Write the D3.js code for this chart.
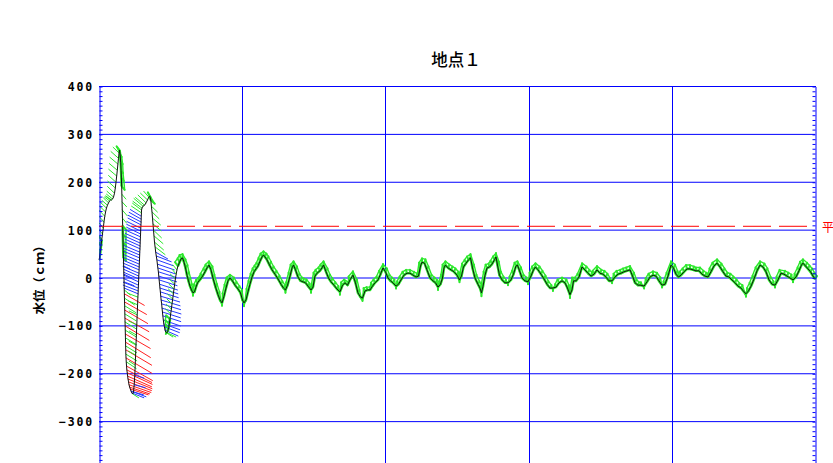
<!DOCTYPE html>
<html>
<head>
<meta charset="utf-8">
<script src="https://cdn.jsdelivr.net/npm/d3@7"></script>
<style>
  html, body { margin: 0; padding: 0; background: #fff; overflow: hidden; }
  svg { display: block; }
</style>
</head>
<body>
<svg id="chart" width="833" height="463"></svg>
<script>
// 地点１ water-level record: time in minutes from the start of the 5-day window, level in cm
const obsMinute = [
  0,5,13,20,27,35,43,50,58,66,75,85,96,106,116,126,136,146,156,164,171,178,184,190,196,202,207,
  213,218,222,225,228,230,232,234,236,238,240,242,244,246,248,250,252,254,255,256,257,258,259,260,261,262,263,264,265,266,267,268,269,270,272,274,277,280,284,288,292,297,302,308,315,322,330,338,
  347,354,360,364,368,372,376,380,384,388,391,
  393,394,395,397,398,399,400,402,403,404,405,407,408,409,410,412,413,414,415,417,418,419,420,422,423,424,425,427,428,
  432,442,458,473,488,501,511,
  521,527,533,538,543,548,553,558,564,570,576,582,587,592,597,601,605,609,613,617,621,625,630,634,638,642,647,652,658,664,
  672,682,692,700,707,714,721,728,734,741,748,754,761,768,776,784,794,810,825,840,855,870,885,900,915,930,945,960,975,991,1006,1021,
  1036,1066,1086,1106,1126,1146,1172,1197,1217,1237, 1257,1277,1297,1317,1342,1368,1398,1423,1443,1458,
  1478,1498,1518,1539,1559,1579,1599,1619,1639,1654, 1669,1689,1715,1740,1770,1800,1830,1855,1875,1896,
  1921,1941,1956,1976,2001,2026,2051,2077,2102,2132, 2152,2172,2192,2222,2242,2258,2283,2308,2333,2363,
  2393,2423,2449,2474,2499,2524,2554,2579,2604,2630, 2650,2675,2700,2725,2750,2775,2806,2831,2856,2881,
  2906,2931,2956,2987,3012,3037,3067,3097,3127,3158, 3188,3213,3233,3248,3273,3298,3329,3359,3384,3409,
  3434,3454,3469,3484,3510,3540,3570,3600,3625,3645, 3665,3691,3716,3736,3756,3781,3811,3831,3846,3862,
  3882,3902,3927,3952,3977,3992,4007,4027,4053,4083, 4113,4143,4168,4193,4208,4229,4254,4284,4314,4344,
  4369,4389,4415,4445,4475,4505,4535,4565,4596,4626, 4656,4686,4711,4736,4756,4772,4797,4827,4857,4887,
  4917,4948,4978,5008,5038,5068,5098,5129,5159,5189, 5219,5249,5279,5310,5340,5365,5390,5420,5450,5481,
  5511,5541,5571,5601,5631,5662,5692,5722,5752,5777, 5802,5827,5853,5883,5913,5943,5973,6003,6034,6064,
  6094,6124,6154,6184,6215,6245,6275,6305,6335,6365, 6396,6426,6456,6486,6506,6531,6557,6587,6617,6647,
  6677,6707,6738,6768,6798,6828,6858,6888,6918,6949, 6979,7009,7039,7064,7079,7105,7130,7155,7180,7200
];
const levelCm = [
  38,42,54,67,79,92,104,117,129,138,146,152,157,161,163,163,165,169,177,188,200,213,225,238,250,261,267,
  257,242,225,209,192,175,159,142,125,109,92,75,58,42,25,8,-8,-25,-33,-42,-50,-58,-67,-75,-84,-92,-100,-109,-117,-125,-134,-142,-150,-159,-167,-175,-184,-192,-198,-205,-211,-217,-223,-228,-232,-236,-240,-242,
  -238,-223,-203,-182,-161,-140,-119,-98,-77,-56,-40,
  -33,-27,-21,-15,-8,-2,4,10,17,23,29,35,42,48,54,61,67,73,79,86,92,98,104,111,117,123,129,136,142,
  146,150,152,157,163,169,171,
  163,150,138,125,113,100,88,75,65,54,46,38,29,21,13,4,-4,-13,-21,-29,-38,-46,-54,-63,-71,-79,-88,-96,-102,-109,
  -113,-115,-111,-104,-96,-86,-75,-65,-54,-44,-33,-23,-13,-2,8,17,25,33,40,42,33,21,6,-6,-17,-25,-31,-29,-19,-10,-6,-2,
  2,13,21,27,17,0,-19,-35,-46,-52, -38,-21,-6,0,-6,-15,-23,-31,-46,-52,
  -46,-29,-13,2,13,19,25,35,44,48, 44,38,27,17,8,-2,-13,-21,-25,-15,
  4,21,27,17,2,-6,-8,-10,-17,-25, -19,4,10,15,21,27,13,0,-8,-15,
  -23,-29,-15,-10,-15,-4,6,-10,-31,-40, -42,-27,-25,-25,-17,-10,-4,8,21,13,
  0,-6,-10,-17,-13,-4,6,10,10,6, 2,4,25,33,31,17,0,-6,-10,-19,
  -13,0,21,27,21,17,13,6,-4,4, 23,31,38,42,21,0,-13,-21,-31,-17,
  6,21,23,29,38,44,27,6,-4,-10, -10,-4,8,25,27,15,0,-6,-8,4,
  17,23,17,8,-2,-13,-21,-21,-19,-10, -6,-10,-21,-35,-25,-6,-6,2,23,17,
  10,4,8,17,10,8,2,-6,-6,2, 8,10,13,15,17,4,-10,-15,-15,-17,
  -8,2,6,4,-6,-15,-13,4,27,21, 8,2,6,13,19,19,17,15,15,8,
  4,2,13,25,31,23,13,4,2,-4, -10,-17,-21,-29,-33,-27,-17,-2,15,27,
  23,13,-4,-13,-15,-4,10,8,4,0, -4,2,15,27,31,25,19,13,4,-2
];
// vector drawn from each reading: offset along time (minutes) and along level (cm)
const vecMinute = [
  -15,-20,-25,-30,-35,-40,-45,-50,-55,-60,-60,-55,-50,-50,-50,-55,-60,-65,-70,-75,-75,-80,-80,-80,-75,-60,-30,
  15,20,20,25,30,40,45,50,40,35,30,30,25,25,60,80,100,60,200,100,220,110,230,110,240,110,240,110,250,110,250,110,260,110,260,100,260,250,250,240,240,230,220,200,180,150,120,60,
  100,110,90,-60,-70,-70,-70,-80,-80,-90,-100,
  -140,-150,-150,-150,-150,-150,-150,-160,-160,-160,-160,-160,-160,-160,-160,-150,-150,-150,-150,-150,-140,-140,-140,-130,-130,-120,-110,-100,-90,
  -90,-90,-90,-80,-70,-50,-20,
  40,60,70,80,80,80,90,90,100,120,150,160,170,170,180,180,180,180,180,180,190,190,190,190,180,180,170,160,150,130,
  100,60,-20,-30,-40,-40,-50,-50,-50,-50,-50,-50,-50,-50,-40,-40,-30,-20,-15,0,15,20,20,20,20,15,0,-15,-20,-15,-10,-10,
  -15,-15,-15,0,15,15,15,15,10,0, -15,-15,-15,0,15,15,15,15,10,0,
  -10,-15,-15,-15,-15,-15,-15,-15,-15,0, 15,15,15,15,15,15,15,15,0,-15,
  -15,-15,0,15,15,15,10,10,15,0, -15,-15,-15,-15,-15,0,15,15,15,15,
  15,0,-15,-10,10,-15,0,15,15,10, 0,-15,-10,0,-15,-15,-15,-15,0,15,
  15,15,15,0,-15,-15,-15,-10,0,10, 10,-10,-15,0,10,15,15,15,15,0,
  -15,-15,-15,0,15,15,15,15,0,-15, -15,-15,-15,0,15,15,15,15,0,-15,
  -15,-15,-10,-15,-15,0,15,15,15,10, 0,-15,-15,-15,0,15,15,15,0,-15,
  -15,0,15,15,15,15,15,0,-10,-15, 0,15,15,0,-15,-15,-10,-15,0,15,
  15,10,-15,0,15,15,15,10,0,-15, -15,-10,-10,-10,0,15,15,10,0,0,
  -15,-15,0,10,15,0,-15,-15,0,15, 15,0,-15,-15,-10,0,10,0,10,15,
  15,0,-15,-15,0,15,15,15,15,15, 15,15,15,10,0,-15,-15,-15,-15,0,
  15,15,15,15,0,-15,-15,10,15,15, 0,-15,-15,-15,0,15,15,15,15,20
];
const vecCm = [
  6,8,8,10,10,10,12,12,12,12,12,10,10,8,8,8,10,12,14,14,14,14,14,14,14,12,8,
  -4,-4,-6,-6,-8,-10,-10,-12,-10,-8,-8,-8,-6,-6,-6,-8,-8,-10,-24,-14,-26,-14,-28,-14,-28,-14,-30,-14,-30,-14,-32,-14,-32,-14,-32,-14,-30,-26,-24,-22,-20,-18,-16,-14,-12,-12,-10,-8,
  -6,-6,-6,8,8,8,8,8,8,8,8,
  12,12,12,14,14,14,14,14,14,14,14,14,14,14,14,14,14,14,14,14,14,14,14,14,14,14,14,14,14,
  14,16,16,16,14,12,8,
  -8,-12,-14,-14,-14,-16,-16,-16,-16,-14,-12,-12,-12,-12,-12,-12,-12,-12,-12,-12,-12,-12,-12,-12,-12,-12,-12,-12,-12,-12,
  -10,-8,-6,6,8,8,10,10,10,10,10,10,10,10,10,10,8,8,8,8,6,6,6,6,4,-4,-6,4,6,6,6,6,
  7,7,7,8,7,7,6,6,-4,-6, 6,7,7,7,7,7,6,6,-4,-7,
  -4,6,7,7,7,7,7,7,7,8, 7,7,7,7,7,7,6,6,-6,6,
  7,7,8,7,7,7,7,7,6,-6, 6,7,7,7,7,8,7,7,7,6,
  6,-6,6,7,6,7,8,7,6,-4, -6,6,6,6,7,7,7,7,8,7,
  7,7,7,-5,6,7,7,7,7,7, 7,7,7,8,8,7,7,7,6,-6,
  6,7,7,8,7,7,7,7,-5,7, 7,7,7,8,7,7,6,6,-7,6,
  7,7,7,7,7,8,7,7,7,6, -5,7,7,7,8,7,7,7,-5,7,
  7,8,7,7,7,6,6,-6,6,7, 7,7,6,-7,6,7,7,7,8,7,
  7,7,7,8,7,7,7,6,-5,7, 7,7,7,7,8,7,7,6,6,-5,
  7,7,8,7,7,-5,6,7,8,7, 7,6,7,7,8,8,7,7,7,7,
  7,6,7,7,8,7,7,7,7,7, 7,6,6,-4,-6,6,7,7,7,8,
  7,7,7,6,-5,7,7,7,7,7, -5,7,7,7,8,7,7,7,7,6
];
// vector class in runs along the record: g = green, b = blue, r = red
const vecKindRuns = [
  ["g",41],["b",3],["g",1],
  ["r",1],["g",1],["r",1],["g",1],["r",1],["g",1],["r",1],["g",1],["r",1],["g",1],
  ["r",1],["g",1],["r",1],["g",1],["r",1],["g",1],["r",1],["g",1],
  ["r",9],["b",2],["g",1],["b",3],["g",8],["b",27],["g",18],["b",21],["g",272]
];
const gridLevels = [300, 200, 100, 0, -100, -200, -300];
const yTickValues = [400, 300, 200, 100, 0, -100, -200, -300];
const dayBoundaries = [0, 1440, 2880, 4320, 5760, 7200];
const referenceLevel = 108;
const chartTitle = "地点１";
const yAxisTitle = "水位（ｃｍ）";
const referenceLabel = "平";

// ---- layout ----
const W = 833, H = 463;
const plot = { left: 99, right: 815, top: 86.5, bottom: 469.5 };
const BLUE = "#0000ff";
const GREEN = "#2ce82c";
const vecColor = { g: GREEN, b: "#2438ff", r: "#ff2020" };

const x = d3.scaleLinear().domain([dayBoundaries[0], dayBoundaries[dayBoundaries.length - 1]]).range([plot.left, plot.right]);
const y = d3.scaleLinear().domain([-400, 400]).range([plot.bottom, plot.top]);

const kinds = [];
vecKindRuns.forEach(([k, n]) => { for (let i = 0; i < n; i++) kinds.push(k); });

const records = obsMinute.map((m, i) => ({
  m, v: levelCm[i], du: vecMinute[i], dv: vecCm[i], kind: kinds[i] || "g"
}));
// pixel length of each vector decides whether it is a short (tight) one
records.forEach(d => {
  d.len = Math.hypot(x(d.m + d.du) - x(d.m), y(d.v + d.dv) - y(d.v));
  d.tight = d.kind === "g" && d.len < 6;
});

const svg = d3.select("#chart");
svg.append("rect").attr("width", W).attr("height", H).attr("fill", "#fff");

svg.append("defs").append("clipPath").attr("id", "plotClip")
  .append("rect")
  .attr("x", plot.left).attr("y", plot.top)
  .attr("width", W - plot.left).attr("height", plot.bottom - plot.top);

// horizontal grid every 100 cm
svg.append("g").selectAll("line")
  .data(gridLevels)
  .join("line")
  .attr("x1", plot.left).attr("x2", plot.right)
  .attr("y1", d => y(d)).attr("y2", d => y(d))
  .attr("stroke", BLUE).attr("stroke-width", 1);

// day boundaries
svg.append("g").selectAll("line")
  .data(dayBoundaries.slice(1, -1))
  .join("line")
  .attr("x1", d => Math.round(x(d)) + 0.5).attr("x2", d => Math.round(x(d)) + 0.5)
  .attr("y1", plot.top).attr("y2", plot.bottom)
  .attr("stroke", BLUE).attr("stroke-width", 1);

const vecLayer = svg.append("g").attr("clip-path", "url(#plotClip)");

// continuous band for runs of short green vectors: along the level and along the vector tips
vecLayer.append("path")
  .datum(records)
  .attr("fill", "none").attr("stroke", GREEN).attr("stroke-width", 2.6)
  .attr("stroke-linejoin", "round")
  .attr("d", d3.line().defined(d => d.tight).x(d => x(d.m)).y(d => y(d.v)));
vecLayer.append("path")
  .datum(records)
  .attr("fill", "none").attr("stroke", GREEN).attr("stroke-width", 1.4)
  .attr("stroke-linejoin", "round")
  .attr("d", d3.line().defined(d => d.tight).x(d => x(d.m + d.du)).y(d => y(d.v + d.dv)));

// vectors from each reading
vecLayer.append("g").selectAll("line")
  .data(records)
  .join("line")
  .attr("x1", d => x(d.m)).attr("y1", d => y(d.v))
  .attr("x2", d => x(d.m + d.du)).attr("y2", d => y(d.v + d.dv))
  .attr("stroke", d => vecColor[d.kind])
  .attr("stroke-width", d => d.tight ? 2 : 1)
  .attr("stroke-linecap", "round");

// level trace
svg.append("path")
  .datum(records)
  .attr("fill", "none")
  .attr("stroke", "#111")
  .attr("stroke-width", 1)
  .attr("stroke-linejoin", "round")
  .attr("d", d3.line().x(d => x(d.m)).y(d => y(d.v)));

// reference level (dashed), phase anchored at the right edge
svg.append("line")
  .attr("x1", plot.right).attr("x2", plot.left)
  .attr("y1", y(referenceLevel)).attr("y2", y(referenceLevel))
  .attr("stroke", "#ff0000").attr("stroke-width", 1)
  .attr("stroke-dasharray", "28,8").attr("stroke-dashoffset", 28);

svg.append("text")
  .attr("x", 822).attr("y", y(referenceLevel))
  .attr("dominant-baseline", "central")
  .attr("fill", "#ff0000")
  .attr("font-family", "'Noto Sans CJK JP', sans-serif")
  .attr("font-size", 12)
  .text(referenceLabel);

// axes: minor ticks every 10 cm pointing inward on both sides
const minorTicks = d3.range(-400, 401, 10);
const leftAxis = svg.append("g")
  .attr("transform", `translate(${plot.left + 0.5},0)`)
  .call(d3.axisRight(y).tickValues(minorTicks).tickSize(3).tickSizeOuter(0).tickFormat(""));
const rightAxis = svg.append("g")
  .attr("transform", `translate(${plot.right + 0.5},0)`)
  .call(d3.axisLeft(y).tickValues(minorTicks).tickSize(3).tickSizeOuter(0).tickFormat(""));
[leftAxis, rightAxis].forEach(g => {
  g.selectAll("path.domain").attr("stroke", BLUE).attr("stroke-width", 1);
  g.selectAll(".tick line").attr("stroke", BLUE).attr("stroke-width", 1);
});

// top frame edge
svg.append("line")
  .attr("x1", plot.left).attr("x2", plot.right + 1)
  .attr("y1", y(400)).attr("y2", y(400))
  .attr("stroke", BLUE).attr("stroke-width", 1);

// y tick labels
const labelAxis = svg.append("g")
  .attr("transform", `translate(${plot.left},0)`)
  .call(d3.axisLeft(y).tickValues(yTickValues).tickSize(0).tickPadding(5).tickFormat(d3.format("d")));
labelAxis.select("path.domain").remove();
labelAxis.selectAll("text")
  .attr("font-family", "'DejaVu Sans Mono', monospace")
  .attr("font-weight", "bold")
  .attr("font-size", 11.5)
  .attr("letter-spacing", "1.8px")
  .attr("fill", "#000")
  .attr("dy", null)
  .attr("dominant-baseline", "central");

// y axis title
svg.append("text")
  .attr("transform", `translate(38,${y(0) - 1}) rotate(-90)`)
  .attr("text-anchor", "middle")
  .attr("dominant-baseline", "central")
  .attr("font-family", "'Noto Sans CJK JP', sans-serif")
  .attr("font-weight", "bold")
  .attr("font-size", 12.5)
  .attr("fill", "#000")
  .text(yAxisTitle);

// chart title
svg.append("text")
  .attr("x", (plot.left + plot.right) / 2 - 1)
  .attr("y", 66)
  .attr("text-anchor", "middle")
  .attr("font-family", "'Noto Sans CJK JP', sans-serif")
  .attr("font-weight", 500)
  .attr("font-size", 16.5)
  .attr("fill", "#000")
  .text(chartTitle);
</script>
</body>
</html>
